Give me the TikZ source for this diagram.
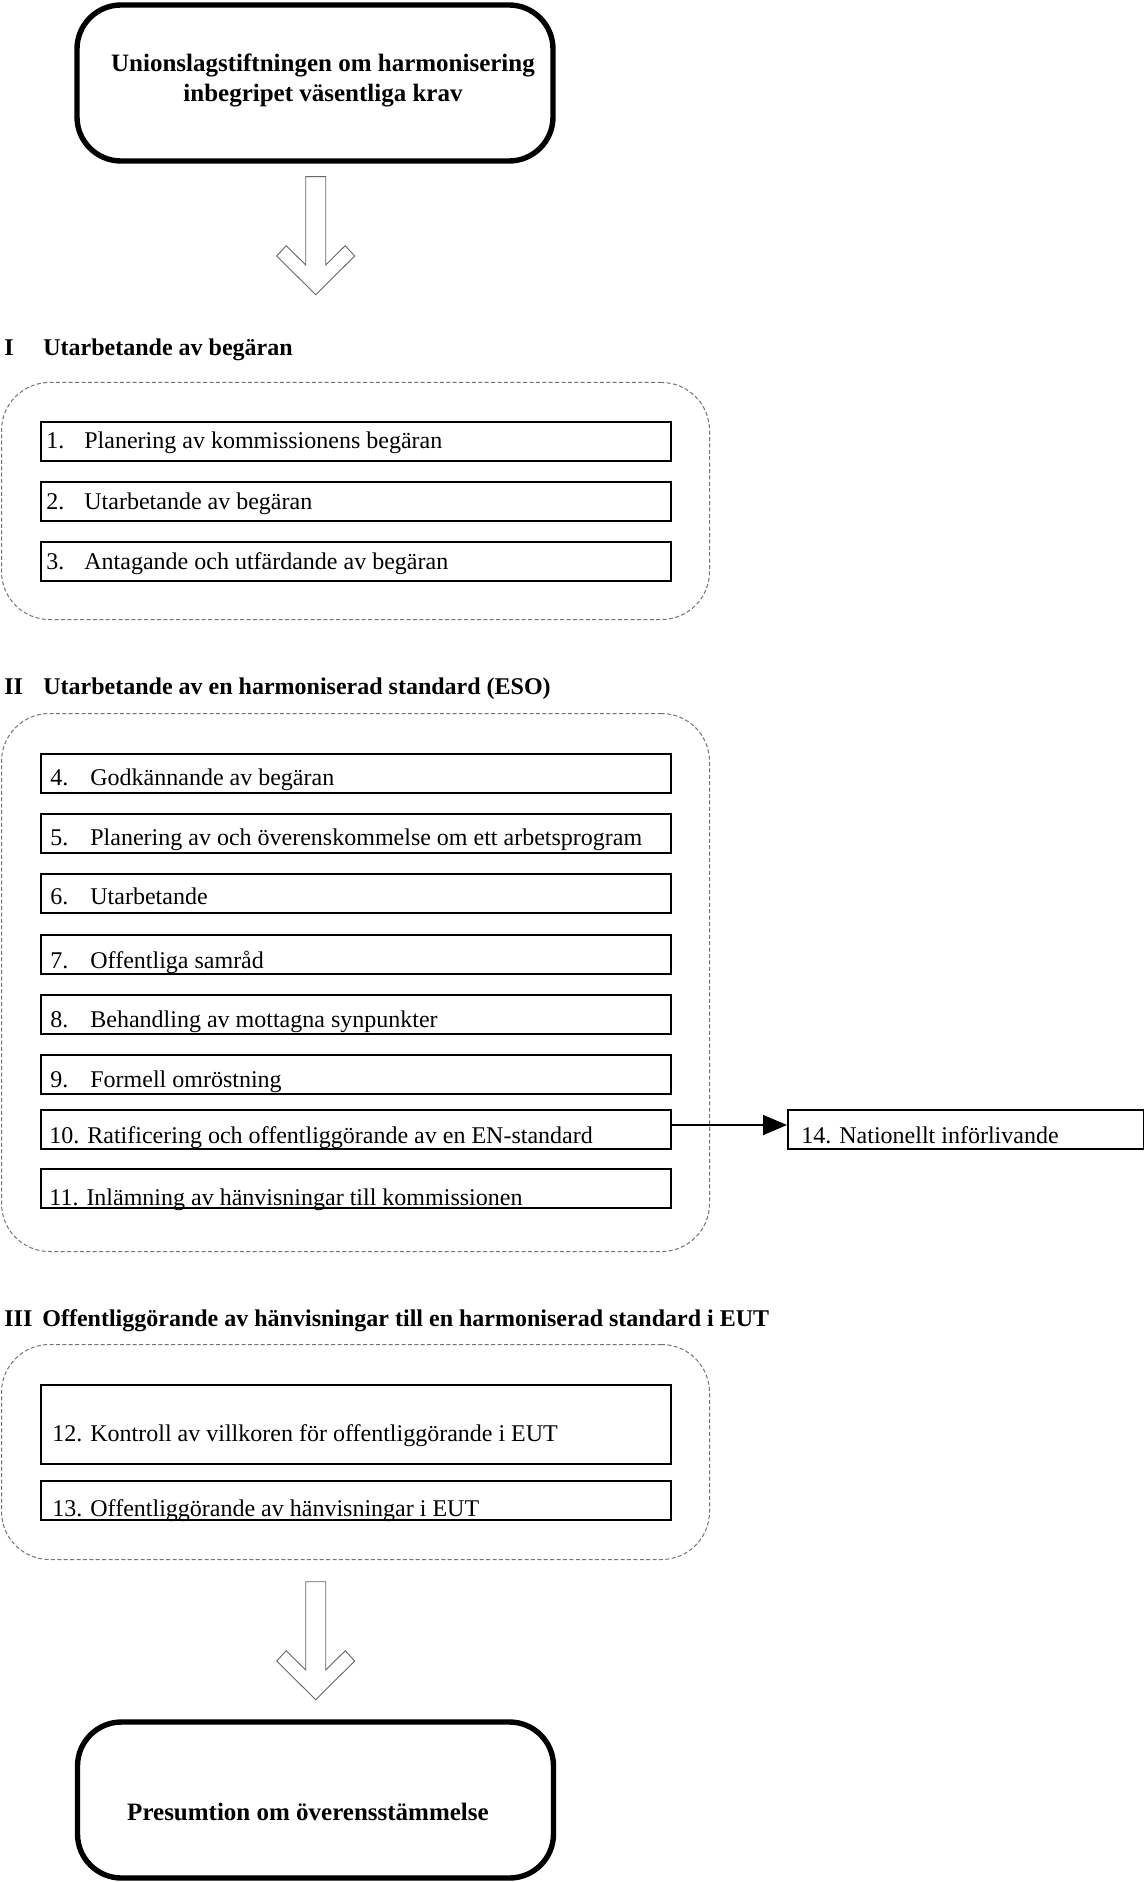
\documentclass[tikz,border=0pt]{standalone}
\usepackage{fontspec}
\setmainfont{Liberation Serif}
\usetikzlibrary{arrows.meta}
\begin{document}
\begin{tikzpicture}[x=0.5pt,y=-0.5pt,
  bigbox/.style={draw, line width=2.7pt, rounded corners=22pt, minimum width=238pt, minimum height=78pt, inner sep=0pt},
  bigtext/.style={font=\fontsize{12.5}{14}\selectfont\bfseries, inner sep=0pt, anchor=base},
  group/.style={draw=black!55, line width=0.5pt, dash pattern=on 2pt off 1.2pt, rounded corners=24pt, minimum width=354pt, inner sep=0pt, anchor=north west},
  head/.style={font=\fontsize{12}{14}\selectfont\bfseries, inner sep=0pt, anchor=base west},
  itembox/.style={draw, line width=0.9pt, minimum width=315pt, minimum height=19.5pt, inner sep=0pt, anchor=north west},
  itemtext/.style={font=\fontsize{12}{13}\selectfont, inner sep=0pt, anchor=base west},
  blockarrow/.style={draw=black!60, line width=0.45pt, fill=white},
]
\useasboundingbox (0,0) rectangle (1144,1882);

% top box
\node[bigbox] (top) at (315,83) {};
\node[bigtext] (topl1) at (323,72) {Unionslagstiftningen om harmonisering};
\node[bigtext] (topl2) at (323,102) {inbegripet väsentliga krav};

% block arrow 1
\coordinate (a1) at (315.7,176.7);
\draw[blockarrow] (a1) ++(-10,0) -- ++(20,0) -- ++(0,88.3) -- ++(19.5,-19.3) -- ++(9.5,10.3)
  -- ++(-39,38.7) -- ++(-39,-38.7) -- ++(9.5,-10.3) -- ++(19.5,19.3) -- cycle;

% Section I
\node[head] (h1n) at (4,356) {I};
\node[head] (h1) at (43,356) {Utarbetande av begäran};
\node[group, minimum height=118.5pt] (g1) at (1,382) {};
\node[itembox] (b1) at (40,421) {};
\node[itemtext] (t1) at (46,449) {\makebox[19pt][l]{1.}Planering av kommissionens begäran};
\node[itembox] (b2) at (40,481) {};
\node[itemtext] (t2) at (46,509) {\makebox[19pt][l]{2.}Utarbetande av begäran};
\node[itembox] (b3) at (40,541) {};
\node[itemtext] (t3) at (46,569) {\makebox[19pt][l]{3.}Antagande och utfärdande av begäran};

% Section II
\node[head] (h2n) at (4,694) {II};
\node[head] (h2) at (43,694) {Utarbetande av en harmoniserad standard (ESO)};
\node[group, minimum height=269pt] (g2) at (1,713) {};
\node[itembox] (b4) at (40,753) {};
\node[itemtext] (t4) at (50,785) {\makebox[20pt][l]{4.}Godkännande av begäran};
\node[itembox] (b5) at (40,813) {};
\node[itemtext] (t5) at (50,845) {\makebox[20pt][l]{5.}Planering av och överenskommelse om ett arbetsprogram};
\node[itembox] (b6) at (40,873) {};
\node[itemtext] (t6) at (50,904) {\makebox[20pt][l]{6.}Utarbetande};
\node[itembox] (b7) at (40,934) {};
\node[itemtext] (t7) at (50,968) {\makebox[20pt][l]{7.}Offentliga samråd};
\node[itembox] (b8) at (40,994) {};
\node[itemtext] (t8) at (50,1027) {\makebox[20pt][l]{8.}Behandling av mottagna synpunkter};
\node[itembox] (b9) at (40,1054) {};
\node[itemtext] (t9) at (50,1087) {\makebox[20pt][l]{9.}Formell omröstning};
\node[itembox] (b10) at (40,1109) {};
\node[itemtext] (t10) at (49,1143) {10. Ratificering och offentliggörande av en EN-standard};
\node[itembox] (b11) at (40,1168) {};
\node[itemtext] (t11) at (49,1205) {11. Inlämning av hänvisningar till kommissionen};

\node[itembox, minimum width=178pt] (b14) at (787,1109) {};
\node[itemtext] (t14) at (801,1143) {14. Nationellt införlivande};
\draw[line width=0.9pt, -{Triangle[length=12pt,width=10pt]}] ([yshift=2.2pt]b10.east) -- ([yshift=2.2pt]b14.west);

% Section III
\node[head] (h3n) at (4,1326) {III};
\node[head] (h3) at (42,1326) {Offentliggörande av hänvisningar till en harmoniserad standard i EUT};
\node[group, minimum height=107.5pt] (g3) at (1,1344) {};
\node[itembox, minimum height=39.5pt] (b12) at (40,1384) {};
\node[itemtext] (t12) at (52,1441) {12. Kontroll av villkoren för offentliggörande i EUT};
\node[itembox] (b13) at (40,1480) {};
\node[itemtext] (t13) at (52,1516) {13. Offentliggörande av hänvisningar i EUT};

% block arrow 2
\coordinate (a2) at (315.7,1581.7);
\draw[blockarrow] (a2) ++(-10,0) -- ++(20,0) -- ++(0,88.3) -- ++(19.5,-19.3) -- ++(9.5,10.3)
  -- ++(-39,38.7) -- ++(-39,-38.7) -- ++(9.5,-10.3) -- ++(19.5,19.3) -- cycle;

% bottom box
\node[bigbox] (bot) at (315.5,1800) {};
\node[bigtext] (bott) at (308,1820) {Presumtion om överensstämmelse};
\end{tikzpicture}
\end{document}
